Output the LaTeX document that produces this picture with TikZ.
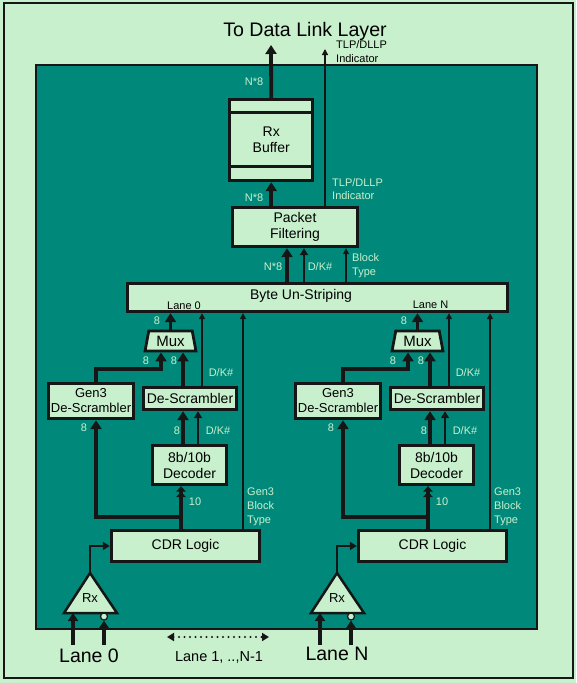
\documentclass[tikz,border=0pt]{standalone}
\usepackage{fontspec}
\setmainfont{Liberation Sans}
\usetikzlibrary{arrows.meta,shapes.geometric}
\definecolor{lg}{RGB}{200,240,205}
\definecolor{tealbg}{RGB}{0,137,122}
\definecolor{edge}{RGB}{22,22,22}
\begin{document}
\begin{tikzpicture}[x=1pt,y=-1pt,
  box/.style={draw=edge,line width=2.8pt,fill=lg,inner sep=0pt,align=center,font=\fontsize{14}{16}\selectfont},
  lbl/.style={text=lg,inner sep=0pt,font=\fontsize{11}{14}\selectfont},
  blbl/.style={text=black,inner sep=0pt,font=\fontsize{11}{14}\selectfont},
  biglbl/.style={text=black,inner sep=0pt,font=\fontsize{19.5}{22}\selectfont},
  thk/.style={draw=edge,line width=3.8pt,-{Triangle[width=11pt,length=9pt]}},
  dbl/.style={draw=edge,line width=3.2pt,-{Triangle[width=9.5pt,length=5.5pt]Triangle[width=9.5pt,length=5.5pt]}},
  med/.style={draw=edge,line width=2.2pt,-{Triangle[width=8pt,length=7pt]}},
  thn/.style={draw=edge,line width=1.3pt,-{Triangle[width=6pt,length=6pt]}},
  muxbox/.style={trapezium,trapezium left angle=77,trapezium right angle=77,trapezium stretches=true,
    minimum width=51pt,minimum height=20pt,draw=edge,line width=2.8pt,fill=lg,inner sep=0pt,
    font=\fontsize{15}{17}\selectfont},
  rxtri/.style={draw=edge,line width=2.5pt,fill=lg,line join=miter},
  bubble/.style={circle,draw=edge,line width=1.2pt,fill=lg,minimum size=7pt,inner sep=0pt},
  dotarr/.style={draw=edge,line width=2.2pt,dash pattern=on 0pt off 5.5pt,line cap=round,
    {Triangle[width=8pt,length=7pt,line cap=butt]}-{Triangle[width=8pt,length=7pt,line cap=butt]}}
]
\useasboundingbox (0,0) rectangle (576,683);
\fill[lg] (0,0) rectangle (576,683);
\draw[edge,line width=1.5pt] (4,3) rectangle (573,678);
\draw[draw=edge,fill=tealbg,line width=1.2pt] (36,65) rectangle (537,629);

% title
\node[text=black,inner sep=0pt,font=\fontsize{19.6}{22}\selectfont] (title) at (305,31) {To Data Link Layer};
\node[blbl,align=left,anchor=west,font=\fontsize{11}{14}\selectfont] (tlptop) at (336,52) {TLP/DLLP\\Indicator};

% top boxes
\node[box,minimum width=83pt,minimum height=81.5pt] (rb) at (271.25,140) {Rx\\Buffer};
\draw[edge,line width=2.8pt] ([yshift=-15pt]rb.north west) -- ([yshift=-15pt]rb.north east);
\draw[edge,line width=2.8pt] ([yshift=16pt]rb.south west) -- ([yshift=16pt]rb.south east);
\node[box,minimum width=125.5pt,minimum height=39.5pt] (pf) at (295,227) {Packet\\Filtering};
\node[box,minimum width=380.5pt,minimum height=28.5pt] (us) at (317.5,297.5) {};
\node[text=black,inner sep=0pt,font=\fontsize{14}{16}\selectfont] (ustext) at (301,296) {Byte Un-Striping};
\node[blbl] (usl0) at (184,306) {Lane 0};
\node[blbl] (usln) at (430.5,305) {Lane N};

\coordinate (toptip) at (271,45);
\coordinate (tlptip) at (325,49);
\draw[thk] (rb.north) -- (toptip);
\draw[thn] ([xshift=30pt]pf.north) -- (tlptip);
\draw[thk] (pf.north -| rb.south) -- (rb.south);
\draw[thk] ([xshift=-8pt]us.north -| pf.south) -- ([xshift=-8pt]pf.south);
\draw[med] ([xshift=9pt]us.north -| pf.south) -- ([xshift=9pt]pf.south);
\draw[thn] ([xshift=51pt]us.north -| pf.south) -- ([xshift=51pt]pf.south);

\node[lbl] (n8a) at (254,82) {N*8};
\node[lbl] (n8b) at (254,198) {N*8};
\node[lbl] (n8c) at (273,267) {N*8};
\node[lbl] (dkc) at (320,267) {D/K\#};
\node[lbl,align=left,anchor=west] (bt) at (352,266) {Block\\Type};
\node[lbl,align=left,anchor=west,font=\fontsize{11}{13}\selectfont] (tlpin) at (332,189.5) {TLP/DLLP\\Indicator};

% lanes
\foreach \d/\n in {0/a,247/b}{
  \node[muxbox] (\n mux) at ({170.5+\d},341) {Mux};
  \node[box,minimum width=93pt,minimum height=22.5pt] (\n ds) at ({190+\d},398.5) {De-Scrambler};
  \node[box,minimum width=85.5pt,minimum height=35.5pt,font=\fontsize{13}{15}\selectfont] (\n g) at ({91+\d},401) {Gen3\\De-Scrambler};
  \node[box,minimum width=74.5pt,minimum height=39.5pt] (\n dec) at ({189.5+\d},465) {8b/10b\\Decoder};
  \node[box,minimum width=148.5pt,minimum height=31.5pt] (\n cdr) at ({185.5+\d},546) {CDR Logic};
  % Rx triangle
  \coordinate (\n apex) at ({90+\d},573);
  \coordinate (\n bl) at ({64+\d},613);
  \coordinate (\n br) at ({117+\d},613);
  \draw[rxtri] (\n apex) -- (\n br) -- (\n bl) -- cycle;
  \node[text=black,inner sep=0pt,font=\fontsize{13}{15}\selectfont] (\n rx) at ({90+\d},598) {Rx};
  \node[bubble] (\n bub) at ({104+\d},616.5) {};
  \coordinate (\n in1) at ({73+\d},645);
  \coordinate (\n in2) at ({104+\d},645);
  \draw[thk,-{Triangle[width=10pt,length=8pt]}] (\n in1) -- (\n in1 |- \n bl);
  \draw[thk,-{Triangle[width=10pt,length=8pt]}] (\n in2) -- (\n bub.south);
  \draw[med] (\n apex) |- (\n cdr.west);
  % CDR to decoder and Gen3
  \coordinate (\n split) at ([xshift=-4.5pt,yshift=12.25pt]\n cdr.north);
  \draw[dbl] ([xshift=-4.5pt]\n cdr.north) -- ([xshift=-4.5pt]\n cdr.north |- \n dec.south);
  \draw[thk,line join=miter] (\n split) -| ([xshift=5pt]\n g.south);
  \draw[thn] ([xshift=57.5pt]\n cdr.north) -- ([xshift=57.5pt]\n cdr.north |- us.south);
  % decoder to descrambler
  \draw[thk] ([xshift=-6.5pt]\n dec.north) -- ([xshift=-6.5pt]\n dec.north |- \n ds.south);
  \draw[med] ([xshift=8.5pt]\n dec.north) -- ([xshift=8.5pt]\n dec.north |- \n ds.south);
  % descrambler to mux and unstriping
  \draw[thk] ([xshift=-7pt]\n ds.north) -- ([xshift=-7pt]\n ds.north |- \n mux.south);
  \draw[thn] ([xshift=12pt]\n ds.north) -- ([xshift=12pt]\n ds.north |- us.south);
  \draw[thk,line join=miter] ([xshift=5pt]\n g.north) -- ([xshift=5pt,yshift=13.25pt]\n g.north) -| ([xshift=-9.5pt]\n mux.south);
  \draw[thk] (\n mux.north) -- (\n mux.north |- us.south);
  % labels
  \node[lbl] (\n l1) at ({157+\d},321) {8};
  \node[lbl] (\n l2) at ({146+\d},361) {8};
  \node[lbl] (\n l3) at ({174+\d},361) {8};
  \node[lbl] (\n l4) at ({221+\d},373) {D/K\#};
  \node[lbl] (\n l5) at ({84+\d},428) {8};
  \node[lbl] (\n l6) at ({177+\d},431) {8};
  \node[lbl] (\n l7) at ({218+\d},431) {D/K\#};
  \node[lbl] (\n l8) at ({195+\d},502) {10};
  \node[lbl,align=left,anchor=west] (\n l9) at ({247+\d},507) {Gen3\\Block\\Type};
}

% bottom labels
\node[biglbl] (lane0) at (89,656) {Lane 0};
\node[biglbl] (lanen) at (337,654) {Lane N};
\coordinate (dl) at (167,637);
\coordinate (dr) at (269,637);
\draw[dotarr] (dl) -- (dr);
\node[text=black,inner sep=0pt,font=\fontsize{14.5}{16}\selectfont] (lanemid) at (219,657) {Lane 1, ..,N-1};
\end{tikzpicture}
\end{document}
